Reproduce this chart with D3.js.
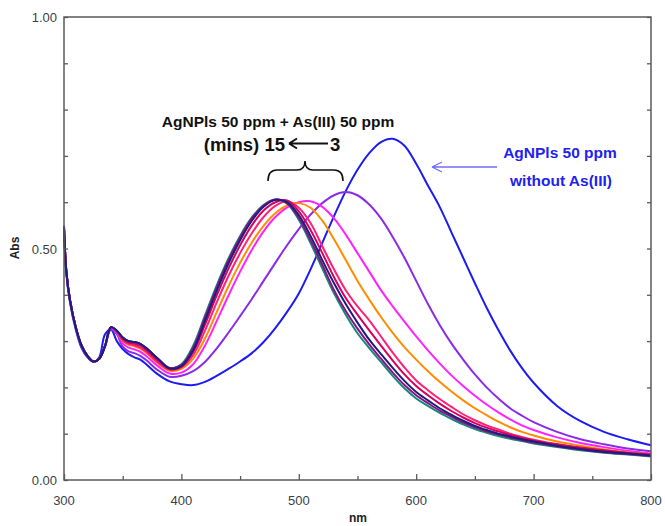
<!DOCTYPE html>
<html>
<head>
<meta charset="utf-8">
<script src="https://cdn.jsdelivr.net/npm/d3@7"></script>
<style>
  body { margin: 0; background: #fff; }
  svg { display: block; font-family: Arial, "Liberation Sans", sans-serif; }
</style>
</head>
<body>
<svg id="chart" width="665" height="526"></svg>
<script>
// wavelengths (nm) shared by every spectrum
const wavelengths = [300, 302, 305, 310, 315, 320, 325, 330, 335, 340, 345,
  350, 355, 360, 365, 370, 380, 390, 400, 410, 420, 430, 440, 450, 460, 470, 480, 490, 500,
  510, 520, 530, 540, 550, 560, 570, 580, 590, 600, 610, 620, 630, 640, 650, 660, 670, 680,
  690, 700, 720, 740, 760, 780, 800]

// AgNPls 50 ppm without As(III)
const absBlue = [0.54, 0.445, 0.385, 0.325, 0.285, 0.265, 0.255, 0.265, 0.315, 0.325, 0.3,
  0.283, 0.272, 0.265, 0.26, 0.25, 0.228, 0.213, 0.207, 0.205, 0.212, 0.225, 0.24, 0.256, 0.274, 0.298, 0.328, 0.363, 0.403,
  0.455, 0.512, 0.57, 0.624, 0.67, 0.706, 0.73, 0.737, 0.722, 0.683, 0.636, 0.59, 0.535, 0.48, 0.425, 0.372, 0.324, 0.28,
  0.242, 0.21, 0.16, 0.127, 0.104, 0.088, 0.075]

// with As(III), 3 min -> 15 min
const absPurple = [0.545, 0.45, 0.39, 0.33, 0.29, 0.268, 0.256, 0.262, 0.288, 0.325, 0.315,
  0.288, 0.278, 0.274, 0.268, 0.259, 0.237, 0.223, 0.225, 0.235, 0.255, 0.284, 0.318, 0.354, 0.391, 0.43, 0.469, 0.507, 0.542,
  0.573, 0.598, 0.615, 0.622, 0.615, 0.595, 0.565, 0.525, 0.48, 0.43, 0.38, 0.335, 0.295, 0.26, 0.228, 0.2, 0.176, 0.155,
  0.139, 0.125, 0.104, 0.088, 0.077, 0.068, 0.062]
const absMagenta = [0.55, 0.45, 0.39, 0.33, 0.29, 0.268, 0.256, 0.262, 0.29, 0.328, 0.318,
  0.295, 0.286, 0.282, 0.277, 0.268, 0.246, 0.23, 0.232, 0.25, 0.29, 0.343, 0.398, 0.45, 0.497, 0.537, 0.568, 0.589, 0.6,
  0.602, 0.59, 0.565, 0.53, 0.49, 0.45, 0.41, 0.375, 0.342, 0.31, 0.28, 0.252, 0.226, 0.203, 0.182, 0.163, 0.146, 0.131,
  0.118, 0.108, 0.092, 0.08, 0.071, 0.063, 0.057]
const absOrange = [0.545, 0.45, 0.39, 0.33, 0.29, 0.268, 0.256, 0.262, 0.29, 0.33, 0.32,
  0.3, 0.292, 0.289, 0.284, 0.275, 0.252, 0.236, 0.24, 0.262, 0.305, 0.362, 0.418, 0.469, 0.513, 0.549, 0.576, 0.593, 0.598,
  0.588, 0.56, 0.52, 0.475, 0.43, 0.39, 0.352, 0.318, 0.287, 0.26, 0.235, 0.212, 0.191, 0.172, 0.155, 0.14, 0.126, 0.114,
  0.104, 0.096, 0.083, 0.074, 0.066, 0.06, 0.055]
const absPink = [0.545, 0.45, 0.39, 0.33, 0.29, 0.268, 0.256, 0.262, 0.29, 0.33, 0.32,
  0.302, 0.294, 0.291, 0.286, 0.277, 0.254, 0.238, 0.243, 0.27, 0.322, 0.383, 0.44, 0.49, 0.533, 0.568, 0.592, 0.602, 0.588,
  0.555, 0.505, 0.455, 0.41, 0.375, 0.345, 0.31, 0.275, 0.243, 0.215, 0.194, 0.175, 0.158, 0.142, 0.129, 0.118, 0.109, 0.1,
  0.093, 0.087, 0.077, 0.069, 0.063, 0.058, 0.054]
const absCrimson = [0.545, 0.45, 0.39, 0.33, 0.29, 0.268, 0.256, 0.262, 0.29, 0.33, 0.322,
  0.305, 0.297, 0.295, 0.29, 0.281, 0.258, 0.24, 0.245, 0.277, 0.335, 0.398, 0.456, 0.507, 0.55, 0.582, 0.6, 0.604, 0.58,
  0.54, 0.49, 0.438, 0.393, 0.357, 0.323, 0.29, 0.258, 0.228, 0.203, 0.183, 0.165, 0.149, 0.135, 0.123, 0.113, 0.105, 0.097,
  0.091, 0.085, 0.077, 0.07, 0.064, 0.059, 0.055]
const absTeal = [0.545, 0.45, 0.39, 0.33, 0.29, 0.268, 0.256, 0.262, 0.29, 0.33, 0.322,
  0.308, 0.3, 0.298, 0.294, 0.285, 0.262, 0.242, 0.25, 0.29, 0.355, 0.42, 0.478, 0.527, 0.567, 0.594, 0.606, 0.597, 0.562,
  0.512, 0.457, 0.403, 0.357, 0.317, 0.285, 0.255, 0.225, 0.198, 0.176, 0.16, 0.145, 0.132, 0.12, 0.11, 0.102, 0.095, 0.089,
  0.084, 0.079, 0.071, 0.064, 0.059, 0.055, 0.051]
const absDarkMagenta = [0.548, 0.452, 0.39, 0.33, 0.29, 0.268, 0.256, 0.262, 0.29, 0.33, 0.322,
  0.308, 0.3, 0.298, 0.294, 0.285, 0.262, 0.242, 0.248, 0.285, 0.35, 0.415, 0.474, 0.524, 0.565, 0.593, 0.606, 0.598, 0.566,
  0.518, 0.465, 0.41, 0.365, 0.327, 0.293, 0.262, 0.232, 0.205, 0.183, 0.166, 0.15, 0.137, 0.124, 0.114, 0.105, 0.098, 0.092,
  0.086, 0.081, 0.073, 0.066, 0.06, 0.056, 0.052]
const absNavy = [0.545, 0.45, 0.39, 0.33, 0.29, 0.268, 0.256, 0.262, 0.29, 0.33, 0.323,
  0.308, 0.3, 0.298, 0.294, 0.285, 0.262, 0.241, 0.246, 0.28, 0.343, 0.408, 0.467, 0.518, 0.56, 0.59, 0.605, 0.6, 0.572,
  0.527, 0.475, 0.425, 0.38, 0.34, 0.303, 0.272, 0.242, 0.214, 0.19, 0.172, 0.155, 0.141, 0.128, 0.117, 0.108, 0.1, 0.094,
  0.088, 0.083, 0.074, 0.067, 0.061, 0.057, 0.053]

const xTickLabels = [300, 400, 500, 600, 700, 800]
const yTickLabels = [0, 0.5, 1]

const spectra = [
  { values: absBlue, color: '#1c1cf2' },
  { values: absPurple, color: '#8a2be8' },
  { values: absMagenta, color: '#ff22ff' },
  { values: absOrange, color: '#ff8c00' },
  { values: absPink, color: '#ff2079' },
  { values: absCrimson, color: '#d8005c' },
  { values: absTeal, color: '#17877d' },
  { values: absDarkMagenta, color: '#85167f' },
  { values: absNavy, color: '#1c1c82' }
]

const svg = d3.select('#chart')
const plotLeft = 64, plotRight = 651, plotTop = 17, plotBottom = 480

const x = d3.scaleLinear().domain([300, 800]).range([plotLeft, plotRight])
const y = d3.scaleLinear().domain([0, 1]).range([plotBottom, plotTop])

const axisColor = '#5a5a5a'

// spectra
const line = d3.line()
  .x((d, i) => x(wavelengths[i]))
  .y(d => y(d))
  .curve(d3.curveCatmullRom.alpha(0.5))

svg.append('g')
  .selectAll('path')
  .data(spectra)
  .join('path')
  .attr('d', d => line(d.values))
  .attr('fill', 'none')
  .attr('stroke', d => d.color)
  .attr('stroke-width', 2)

// frame
svg.append('rect')
  .attr('x', plotLeft).attr('y', plotTop)
  .attr('width', plotRight - plotLeft).attr('height', plotBottom - plotTop)
  .attr('fill', 'none')
  .attr('stroke', axisColor)
  .attr('stroke-width', 1.5)

// ticks pointing inward
const xAxis = d3.axisBottom(x).tickValues(d3.range(300, 801, 50))
  .tickSize(-4).tickFormat('')
svg.append('g').attr('transform', `translate(0,${plotBottom})`).call(xAxis)
  .call(g => g.select('.domain').remove())
  .call(g => g.selectAll('line').attr('stroke', axisColor).attr('stroke-width', 1.3)
    .attr('y2', d => d % 100 === 0 ? -6 : -4))

const yTicks = d3.range(0, 11).map(i => i / 10)
const yAxisL = d3.axisLeft(y).tickValues(yTicks).tickSize(-4).tickFormat('')
svg.append('g').attr('transform', `translate(${plotLeft},0)`).call(yAxisL)
  .call(g => g.select('.domain').remove())
  .call(g => g.selectAll('line').attr('stroke', axisColor).attr('stroke-width', 1.3))
const yAxisR = d3.axisRight(y).tickValues(yTicks).tickSize(-4).tickFormat('')
svg.append('g').attr('transform', `translate(${plotRight},0)`).call(yAxisR)
  .call(g => g.select('.domain').remove())
  .call(g => g.selectAll('line').attr('stroke', axisColor).attr('stroke-width', 1.3))

// tick labels
svg.append('g').selectAll('text')
  .data(xTickLabels)
  .join('text')
  .attr('x', d => x(d))
  .attr('y', 505)
  .attr('text-anchor', 'middle')
  .attr('font-size', 13)
  .attr('fill', '#3a3f4a')
  .text(d => d)

svg.append('g').selectAll('text')
  .data(yTickLabels)
  .join('text')
  .attr('x', 57)
  .attr('y', d => y(d) + 5)
  .attr('text-anchor', 'end')
  .attr('font-size', 13)
  .attr('fill', '#3a3f4a')
  .text(d => d3.format('.2f')(d))

// axis titles
svg.append('text')
  .attr('transform', 'translate(19,248) rotate(-90)')
  .attr('text-anchor', 'middle')
  .attr('font-size', 12)
  .attr('font-weight', 'bold')
  .attr('fill', '#222')
  .text('Abs')

svg.append('text')
  .attr('x', 358).attr('y', 522)
  .attr('text-anchor', 'middle')
  .attr('font-size', 12)
  .attr('font-weight', 'bold')
  .attr('fill', '#222')
  .text('nm')

// annotation: with As(III)
svg.append('text')
  .attr('x', 278).attr('y', 127)
  .attr('text-anchor', 'middle')
  .attr('font-size', 15.5)
  .attr('font-weight', 'bold')
  .attr('fill', '#111')
  .text('AgNPls 50 ppm + As(III) 50 ppm')

svg.append('text')
  .attr('x', 285).attr('y', 151)
  .attr('text-anchor', 'end')
  .attr('font-size', 18.5)
  .attr('font-weight', 'bold')
  .attr('fill', '#111')
  .text('(mins) 15')

svg.append('text')
  .attr('x', 330).attr('y', 151)
  .attr('font-size', 18.5)
  .attr('font-weight', 'bold')
  .attr('fill', '#111')
  .text('3')

svg.append('path')
  .attr('d', 'M289,143.5 L328,143.5 M289,143.5 L297,138.5 M289,143.5 L297,148.5')
  .attr('fill', 'none')
  .attr('stroke', '#111')
  .attr('stroke-width', 2)

// bracket
svg.append('path')
  .attr('d', 'M268,181 Q268,170 277,170 L297,170 Q305,170 305,161 Q305,170 313,170 L334,170 Q343,170 343,181')
  .attr('fill', 'none')
  .attr('stroke', '#111')
  .attr('stroke-width', 1.6)

// annotation: without As(III)
svg.append('text')
  .attr('x', 560).attr('y', 158)
  .attr('text-anchor', 'middle')
  .attr('font-size', 15.5)
  .attr('font-weight', 'bold')
  .attr('fill', '#2222ee')
  .text('AgNPls 50 ppm')

svg.append('text')
  .attr('x', 561).attr('y', 186)
  .attr('text-anchor', 'middle')
  .attr('font-size', 15.5)
  .attr('font-weight', 'bold')
  .attr('fill', '#2222ee')
  .text('without As(III)')

svg.append('path')
  .attr('d', 'M497,167 L432,167 M432,167 L442,162 M432,167 L442,172')
  .attr('fill', 'none')
  .attr('stroke', '#6d6df5')
  .attr('stroke-width', 1.3)
</script>
</body>
</html>
